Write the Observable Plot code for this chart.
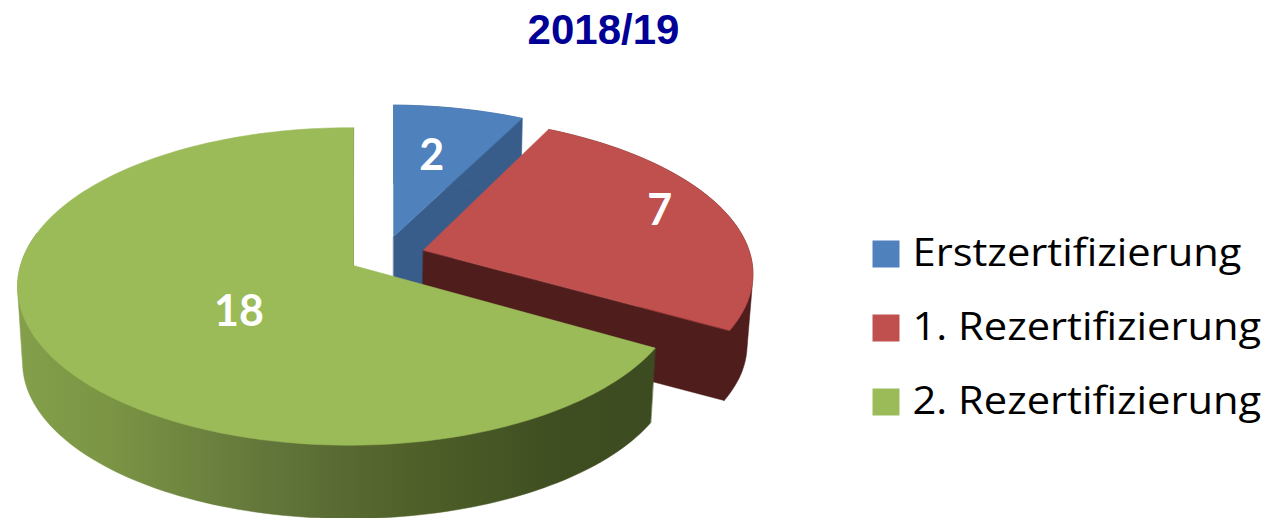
<!DOCTYPE html>
<html>
<head>
<meta charset="utf-8">
<script src="https://cdn.jsdelivr.net/npm/d3@7"></script>
<script src="https://cdn.jsdelivr.net/npm/@observablehq/plot@0.6"></script>
<style>html,body{margin:0;padding:0;background:#fff;overflow:hidden}</style>
</head>
<body>
<div id="chart"></div>
<script>
const chartTitle = "2018/19";
const categories = ["Erstzertifizierung", "1. Rezertifizierung", "2. Rezertifizierung"];
const values = [2, 7, 18];
const topColors = ["#4f81bd", "#c0504d", "#9bbb59"];
const sideColors = ["#385d8a", "#4f1d1c", "url(#greenSide)"];
const explodeX = [0, 0.2, 0];
const explodeY = [0.19, 0.10, 0];
const shiftX = [40, 5, 0];
const stretchX = [1, 1.02, 1];
const depth = [76, 71, 76];
const labelRadius = [0.6, 0.78, 0.39];
const labelDx = [-3, 1, 0];
const labelDy = [0, -6, 15];
const greenStops = [[0, "#84a04b"], [0.15, "#7a9444"], [0.4, "#62753a"], [0.62, "#4f6029"], [0.85, "#3f4e21"], [1, "#3d4b20"]];

const W = 1269, H = 518;
// Perspective view of the pie plane
const cx = 353, cy = 265, A = 329, B = 156, k = 0.132, m = 0.012;
const shrink = 0.985;
function project(i, X, Y, bottom) {
  const w = 1 / (1 + k * Y + m * X), px = cx + shiftX[i];
  let sx = px + A * X * w, sy = cy - B * Y * w;
  if (bottom) { sx = px + (sx - px) * shrink; sy = cy + depth[i] + (sy - cy) * shrink; }
  return {x: sx, y: sy};
}
const arcs = d3.pie().sort(null)(values);
function rimPoint(i, t, r, bottom) {
  return project(i, explodeX[i] + stretchX[i] * r * Math.sin(t), explodeY[i] + r * Math.cos(t), bottom);
}
function rimBetween(i, t0, t1, bottom) {
  const n = Math.max(12, Math.ceil((t1 - t0) * 40));
  return d3.range(n + 1).map(j => rimPoint(i, t0 + (t1 - t0) * j / n, 1, bottom));
}
function apex(i, bottom) { return project(i, explodeX[i], explodeY[i], bottom); }
function face(i) { return [apex(i, false), ...rimBetween(i, arcs[i].startAngle, arcs[i].endAngle, false)]; }
// The visible wall is the convex hull of the front stretch of the upper and lower rims
function wall(i) {
  const t0 = arcs[i].startAngle, t1 = Math.min(arcs[i].endAngle, t0 + Math.PI * 0.9);
  const pts = [...rimBetween(i, t0, t1, false), ...rimBetween(i, t0, t1, true)];
  return d3.polygonHull(pts.map(q => [q.x, q.y])).map(q => ({x: q[0], y: q[1]}));
}
function endWall(i) {
  const t = arcs[i].endAngle;
  return [apex(i, false), rimPoint(i, t, 1, false), rimPoint(i, t, 1, true), apex(i, true)];
}
const poly = (pts, fill) => Plot.line(pts, {x: "x", y: "y", fill, stroke: fill, strokeWidth: 0.5, curve: "linear-closed"});

const sliceMarks = [0, 1, 2].flatMap(i => [
  poly(endWall(i), sideColors[i]),
  poly(wall(i), sideColors[i]),
  poly(face(i), topColors[i])
]);

const sliceLabels = arcs.map((a, i) => {
  const mid = (a.startAngle + a.endAngle) / 2;
  return {...rimPoint(i, mid, labelRadius[i], false), text: String(values[i]), row: i};
});
const legendRows = categories.map((c, i) => ({name: c, color: topColors[i], row: i}));
const legendX = 885.5, legendTextX = 912, legendY = 253.5, legendStep = 74, legendWiden = 1.068;

const defs = () => {
  const d = d3.create("svg:defs");
  const g = d.append("linearGradient").attr("id", "greenSide").attr("gradientUnits", "userSpaceOnUse")
    .attr("x1", 16).attr("x2", 655).attr("y1", 0).attr("y2", 0);
  greenStops.forEach(s => g.append("stop").attr("offset", s[0]).attr("stop-color", s[1]));
  return d.node();
};

const chart = Plot.plot({
  width: W, height: H, margin: 0,
  x: {domain: [0, W], range: [0, W], axis: null},
  y: {domain: [0, H], range: [0, H], axis: null},
  style: {background: "#fff"},
  marks: [
    defs,
    ...sliceMarks,
    Plot.text(sliceLabels, {x: d => d.x + labelDx[d.row], y: d => d.y + labelDy[d.row], text: "text", fill: "#fff", fontFamily: "Lato", fontWeight: 700, fontSize: 43}),
    Plot.text([chartTitle], {x: () => 603, y: () => 30, text: d => d, fill: "#000096", fontFamily: "Liberation Sans", fontWeight: 700, fontSize: 42}),
    Plot.dot(legendRows, {x: () => legendX, y: d => legendY + d.row * legendStep, symbol: "square", r: 15.23, fill: "color", stroke: null}),
    Plot.text(legendRows, {x: () => legendTextX, y: d => legendY + d.row * legendStep, text: "name", textAnchor: "start", fill: "#000", fontFamily: "Open Sans", fontSize: 39})
  ]
});
document.getElementById("chart").append(chart);
// The reference's legend glyphs are wider than the installed face: stretch them to its width
d3.select(chart).selectAll("text").filter(function () { return categories.includes(this.textContent); })
  .each(function () {
    d3.select(this).attr("lengthAdjust", "spacingAndGlyphs").attr("textLength", this.getComputedTextLength() * legendWiden);
  });
</script>
</body>
</html>
